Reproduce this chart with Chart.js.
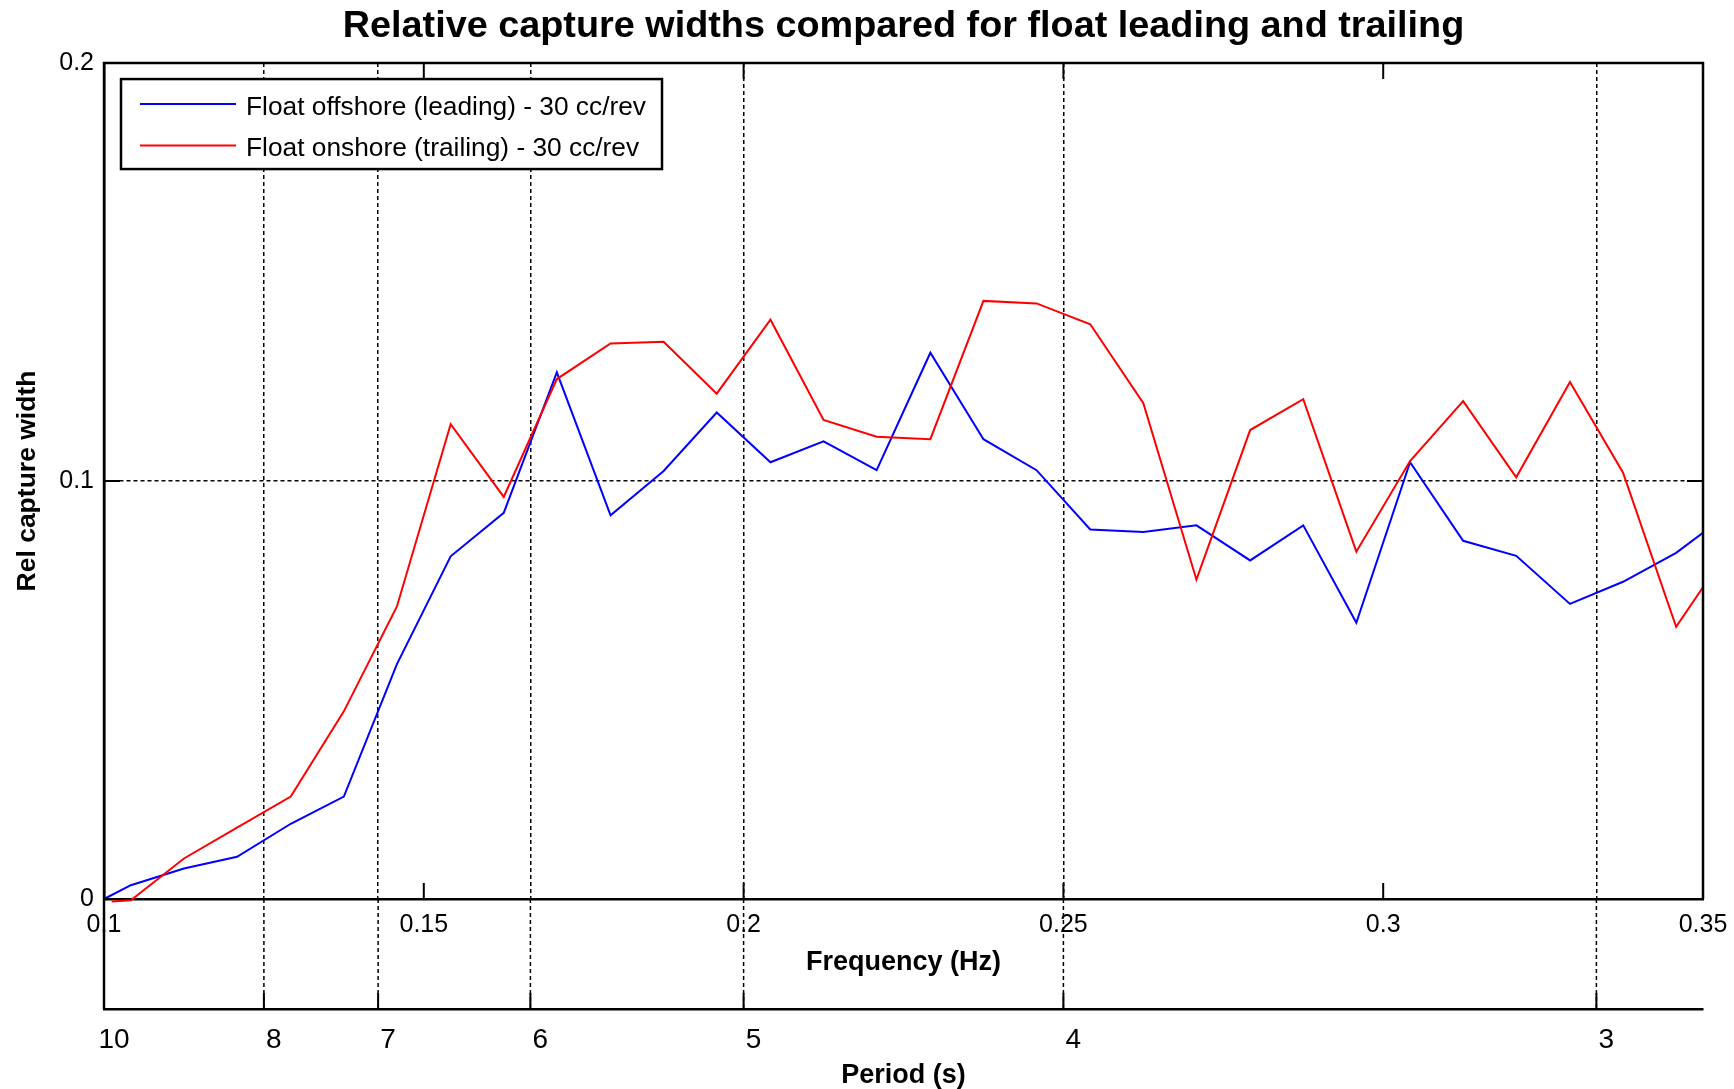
<!DOCTYPE html>
<html>
<head>
<meta charset="utf-8">
<title>Relative capture widths</title>
<script src="https://cdn.jsdelivr.net/npm/chart.js@4.4.1/dist/chart.umd.min.js"></script>
<style>
  html, body { margin: 0; padding: 0; background: #fff; }
  canvas { display: block; }
</style>
</head>
<body>
<canvas id="captureChart" width="1734" height="1089"></canvas>
<script>
// values
const offshoreFreq = [0.1, 0.1042, 0.1125, 0.1208, 0.1292, 0.1375, 0.1458, 0.1542, 0.1625, 0.1708, 0.1792,
  0.1875, 0.1958, 0.2042, 0.2125, 0.2208, 0.2292, 0.2375, 0.2458, 0.2542, 0.2625, 0.2708, 0.2792,
  0.2875, 0.2958, 0.3042, 0.3125, 0.3208, 0.3292, 0.3375, 0.3458, 0.3542];
const offshoreWidth = [0, 0.0033, 0.0073, 0.0101, 0.0180, 0.0245, 0.0562, 0.0820, 0.0924, 0.1260, 0.0918,
  0.1024, 0.1164, 0.1045, 0.1095, 0.1026, 0.1307, 0.1100, 0.1026, 0.0884, 0.0878, 0.0894, 0.0810,
  0.0894, 0.0661, 0.1045, 0.0857, 0.0821, 0.0706, 0.0759, 0.0828, 0.0924];

const onshoreFreq = [0.1012, 0.1042, 0.1125, 0.1208, 0.1292, 0.1375, 0.1458, 0.1542, 0.1625, 0.1708, 0.1792,
  0.1875, 0.1958, 0.2042, 0.2125, 0.2208, 0.2292, 0.2375, 0.2458, 0.2542, 0.2625, 0.2708, 0.2792,
  0.2875, 0.2958, 0.3042, 0.3125, 0.3208, 0.3292, 0.3375, 0.3458, 0.3542];
const onshoreWidth = [-0.0006, -0.0003, 0.0097, 0.0171, 0.0245, 0.0449, 0.0700, 0.1136, 0.0962, 0.1244, 0.1329,
  0.1333, 0.1209, 0.1386, 0.1146, 0.1106, 0.1100, 0.1431, 0.1425, 0.1375, 0.1186, 0.0764, 0.1122,
  0.1196, 0.0831, 0.1048, 0.1191, 0.1009, 0.1237, 0.1020, 0.0651, 0.0841];

const seriesLabels = ['Float offshore (leading) - 30 cc/rev', 'Float onshore (trailing) - 30 cc/rev'];
const freqTicks = [0.1, 0.15, 0.2, 0.25, 0.3, 0.35];
const periodTicks = [10, 8, 7, 6, 5, 4, 3];
const widthTicks = [0, 0.1, 0.2];

Chart.defaults.font.family = "'Liberation Sans', Arial, Helvetica, sans-serif";
Chart.defaults.color = '#000';

const TICK_LEN = 16;
const GRID_DASH = [4, 3];

function toPoints(xs, ys) {
    return xs.map((x, i) => ({ x: x, y: ys[i] }));
}

// MATLAB style frame: box, inward ticks, period grid down to its axis, legend inside the plot
const framePlugin = {
    id: 'frame',
    afterDraw(chart) {
        const ctx = chart.ctx;
        const area = chart.chartArea;
        const xs = chart.scales.x, xp = chart.scales.xp, ys = chart.scales.y;
        const periodLine = xp.top;

        ctx.save();
        ctx.strokeStyle = '#000';

        ctx.lineWidth = 1.5;
        ctx.setLineDash(GRID_DASH);
        periodTicks.forEach(p => {
            const px = xp.getPixelForValue(1 / p);
            ctx.beginPath();
            ctx.moveTo(px, area.bottom);
            ctx.lineTo(px, periodLine);
            ctx.stroke();
        });
        ctx.setLineDash([]);

        ctx.lineWidth = 2.5;
        ctx.beginPath();
        ctx.moveTo(area.left, periodLine);
        ctx.lineTo(area.left, area.top);
        ctx.lineTo(area.right, area.top);
        ctx.lineTo(area.right, area.bottom);
        ctx.stroke();

        ctx.lineWidth = 2;
        ctx.beginPath();
        freqTicks.forEach(f => {
            const px = xs.getPixelForValue(f);
            ctx.moveTo(px, area.bottom);
            ctx.lineTo(px, area.bottom - TICK_LEN);
            ctx.moveTo(px, area.top);
            ctx.lineTo(px, area.top + TICK_LEN);
        });
        widthTicks.forEach(v => {
            const py = ys.getPixelForValue(v);
            ctx.moveTo(area.left, py);
            ctx.lineTo(area.left + TICK_LEN, py);
            ctx.moveTo(area.right, py);
            ctx.lineTo(area.right - TICK_LEN, py);
        });
        periodTicks.forEach(p => {
            const px = xp.getPixelForValue(1 / p);
            ctx.moveTo(px, periodLine);
            ctx.lineTo(px, periodLine - TICK_LEN);
        });
        ctx.stroke();

        // legend box
        const bx = area.left + 17, by = area.top + 16, bw = 541, bh = 90;
        ctx.fillStyle = '#fff';
        ctx.fillRect(bx, by, bw, bh);
        ctx.lineWidth = 2.5;
        ctx.strokeRect(bx, by, bw, bh);
        ctx.font = "26.3px 'Liberation Sans', Arial, sans-serif";
        ctx.textBaseline = 'middle';
        ctx.textAlign = 'left';
        chart.data.datasets.forEach((ds, i) => {
            const ry = by + 25 + i * 41.5;
            ctx.strokeStyle = ds.borderColor;
            ctx.lineWidth = 2;
            ctx.beginPath();
            ctx.moveTo(bx + 19, ry);
            ctx.lineTo(bx + 115, ry);
            ctx.stroke();
            ctx.fillStyle = '#000';
            ctx.fillText(ds.label, bx + 125, ry + 3.5);
        });
        ctx.restore();
    }
};

new Chart(document.getElementById('captureChart'), {
    type: 'line',
    data: {
        datasets: [
            {
                label: seriesLabels[0],
                data: toPoints(offshoreFreq, offshoreWidth),
                borderColor: '#0000ff',
                borderWidth: 2,
                pointRadius: 0,
                tension: 0,
                order: 1,
                clip: { left: 4, top: 4, right: 0, bottom: 4 }
            },
            {
                label: seriesLabels[1],
                data: toPoints(onshoreFreq, onshoreWidth),
                borderColor: '#ff0000',
                borderWidth: 2,
                pointRadius: 0,
                tension: 0,
                order: 0,
                clip: { left: 4, top: 4, right: 0, bottom: 4 }
            }
        ]
    },
    options: {
        responsive: false,
        devicePixelRatio: 1,
        animation: false,
        events: [],
        layout: { padding: { left: 0, right: 31, top: 0, bottom: 0 } },
        plugins: {
            legend: { display: false },
            tooltip: { enabled: false },
            title: {
                display: true,
                fullSize: false,
                text: 'Relative capture widths compared for float leading and trailing',
                color: '#000',
                font: { size: 37.8, weight: 'bold' },
                padding: { top: 3.5, bottom: 14.2 }
            }
        },
        scales: {
            x: {
                type: 'linear',
                axis: 'x',
                position: 'bottom',
                weight: 0,
                min: 0.1,
                max: 0.35,
                afterBuildTicks: s => { s.ticks = freqTicks.map(v => ({ value: v })); },
                afterFit: s => { s.height = 110; },
                ticks: { font: { size: 25, lineHeight: 1.6 }, padding: 6, maxRotation: 0, autoSkip: false, callback: v => String(v) },
                grid: { drawOnChartArea: false, drawTicks: false, color: 'transparent' },
                border: { display: true, color: '#000', width: 2.5 },
                title: { display: true, text: 'Frequency (Hz)', font: { size: 27, weight: 'bold' }, padding: { top: 0, bottom: 30.5 } }
            },
            xp: {
                type: 'linear',
                axis: 'x',
                position: 'bottom',
                weight: 1,
                min: 0.1,
                max: 0.35,
                afterBuildTicks: s => { s.ticks = periodTicks.map(p => ({ value: 1 / p })); },
                afterFit: s => { s.height = 80; },
                ticks: { font: { size: 28 }, padding: 14, labelOffset: 10, maxRotation: 0, autoSkip: false,
                         callback: v => String(Math.round(1 / v)) },
                grid: { color: '#000', lineWidth: 1.5, drawTicks: false },
                border: { display: true, color: '#000', width: 2.5, dash: GRID_DASH },
                title: { display: true, text: 'Period (s)', font: { size: 27, weight: 'bold', lineHeight: 1 }, padding: { top: 0, bottom: 0 } }
            },
            y: {
                min: 0,
                max: 0.2,
                afterBuildTicks: s => { s.ticks = widthTicks.map(v => ({ value: v })); },
                afterFit: s => { s.width = 104; },
                ticks: { font: { size: 25 }, padding: 10, callback: v => String(v) },
                grid: {
                    color: c => (c.tick && c.tick.value === 0.1 ? '#000' : 'transparent'),
                    lineWidth: 1.5,
                    drawTicks: false
                },
                border: { display: true, color: '#000', width: 2.5, dash: GRID_DASH },
                title: { display: true, text: 'Rel capture width', font: { size: 26.5, weight: 'bold' }, padding: { top: 12, bottom: 0 } }
            }
        }
    },
    plugins: [framePlugin]
});
</script>
</body>
</html>
